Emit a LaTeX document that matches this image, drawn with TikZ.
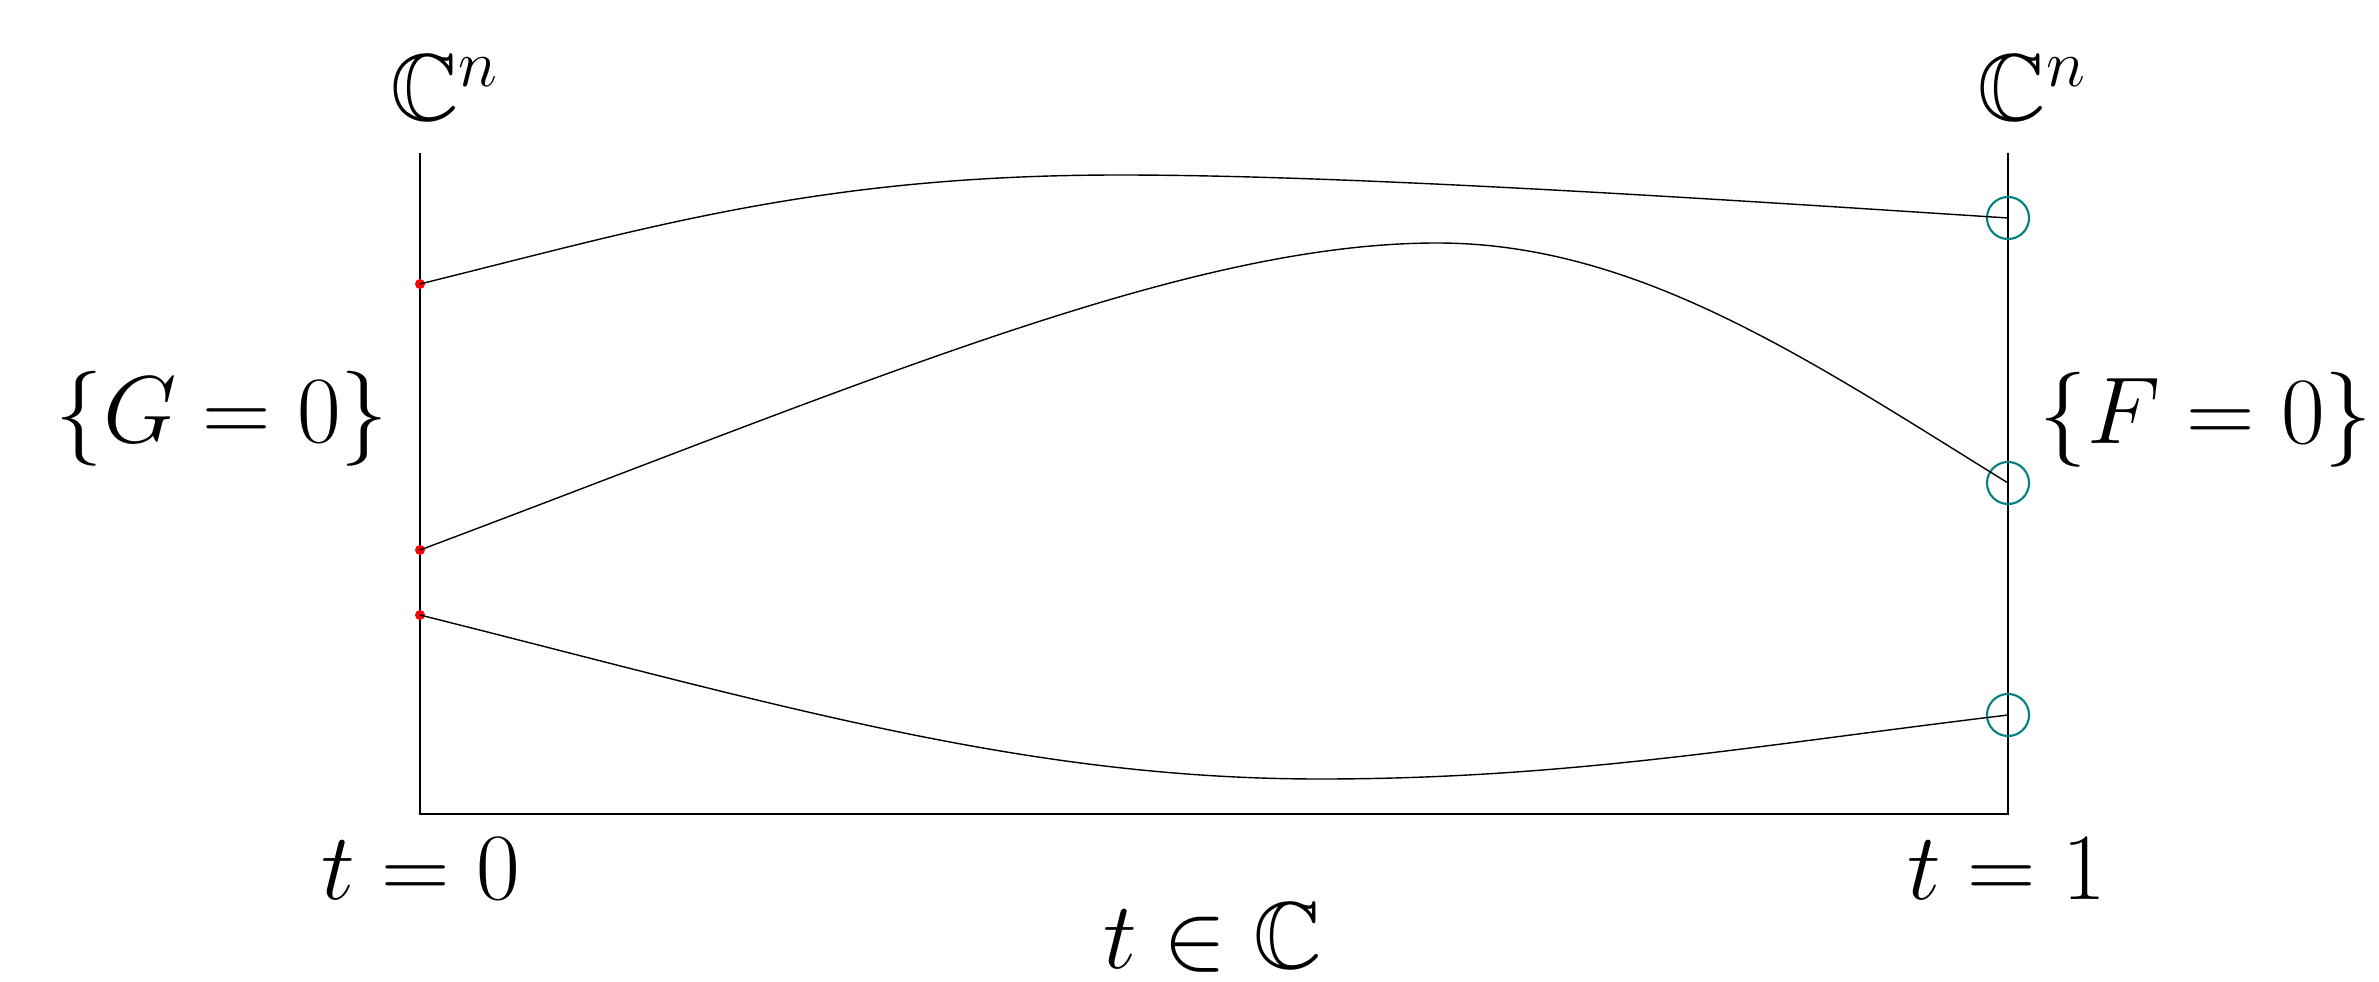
\RequirePackage{fix-cm}
\documentclass[tikz,border=0pt]{standalone}
\usepackage{amssymb}
\usetikzlibrary{positioning}

\begin{document}
\begin{tikzpicture}[
  x=0.01cm, y=-0.01cm,
  axis/.style={line width=0.7pt},
  sol/.style={line width=0.4pt},
  gdot/.style={circle, fill=red, inner sep=0pt, minimum size=0.1cm},
  froot/.style={circle, draw=teal, line width=0.6pt, inner sep=0pt, minimum size=0.42cm},
  lbl/.style={anchor=base, inner sep=0pt, font=\fontsize{27}{32}\selectfont}
]
\useasboundingbox (0,0) rectangle (2379,982);

% frame
\coordinate (lt) at (420,153);
\coordinate (lb) at (420,814);
\coordinate (rt) at (2008,153);
\coordinate (rb) at (2008,814);
\draw[axis] (lt) -- (lb) -- (rb) -- (rt);

% start points on {G=0}, end points on {F=0}
\node[gdot] (g1) at (420,284) {};
\node[gdot] (g2) at (420,550) {};
\node[gdot] (g3) at (420,615) {};
\node[froot] (f1) at (2008,218) {};
\node[froot] (f2) at (2008,483) {};
\node[froot] (f3) at (2008,715) {};

% homotopy paths
\draw[sol] (g1.center) .. controls (650,227) and (820,175) .. (1120,175)
  .. controls (1350,175) and (1708,198.5) .. (f1.center);
\draw[sol] (g2.center) .. controls (870,381) and (1187,243) .. (1437,243)
  .. controls (1637,243) and (1808,359) .. (f2.center);
\draw[sol] (g3.center) .. controls (770,702.5) and (1020,779) .. (1320,779)
  .. controls (1570,779) and (1758,745) .. (f3.center);

% labels
\node[lbl] (cl) at (445,121) {$\mathbb{C}^n$};
\node[lbl] (cr) at (2032,121) {$\mathbb{C}^n$};
\node[lbl] (gset) at (222,442) {$\{G=0\}$};
\node[lbl] (fset) at (2206,443) {$\{F=0\}$};
\node[lbl] (t0) at (421,899) {$t=0$};
\node[lbl] (t1) at (2007,899) {$t=1$};
\node[lbl] (tc) at (1213,968) {$t\in\mathbb{C}$};

\end{tikzpicture}
\end{document}
